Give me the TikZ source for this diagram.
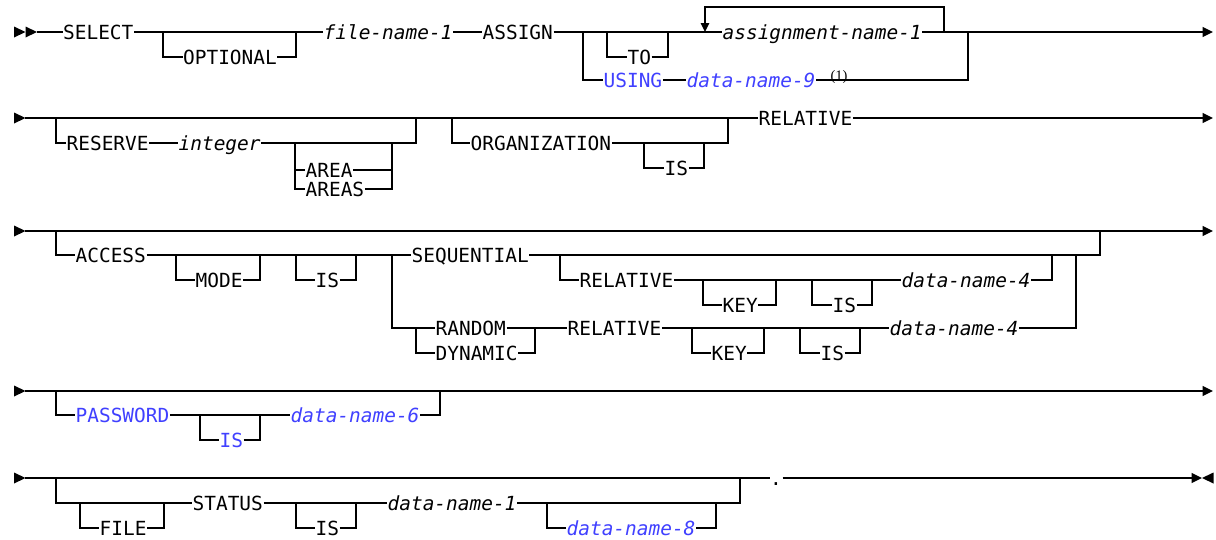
\documentclass[tikz,border=0pt]{standalone}
\usepackage{fontspec}
\usetikzlibrary{arrows.meta}
\newfontfamily\ibmmono{DejaVu Sans Mono}
\newfontfamily\notefont{Liberation Serif}
\newcommand\kwf{\ibmmono\fontsize{19.45pt}{22pt}\selectfont}
\newcommand\ntf{\notefont\fontsize{14.5pt}{16pt}\selectfont}
\definecolor{ibmblue}{RGB}{64,64,255}
\tikzset{
  kw/.style={font=\kwf, inner sep=0pt, text height=16pt, text depth=1.8pt, anchor=west},
  var/.style={kw, font=\kwf\itshape},
  hl/.style={text=ibmblue},
  note/.style={font=\ntf, inner sep=0pt, anchor=base west},
  endarrow/.style={-{Triangle[length=10.5pt,width=10pt]}},
  looparrow/.style={-{Triangle[length=9pt,width=8.5pt]}}
}
\begin{document}
\begin{tikzpicture}[x=1pt,y=-1pt,line width=1.3pt]
\useasboundingbox (0,0) rectangle (1216,539);

% ---------------- Row 1 ----------------
\fill (14,26.5) -- (25.5,32) -- (14,37.5) -- cycle;
\fill (25.5,26.5) -- (37,32) -- (25.5,37.5) -- cycle;
\coordinate (s1) at (37,32);
\node[kw] (sel) at (62.5,32) {SELECT};
\node[kw] (opt) at (182.5,57) {OPTIONAL};
\node[var] (fn1) at (323,32) {file-name-1};
\node[kw] (asg) at (482,32) {ASSIGN};
\node[kw] (to) at (627,57) {TO};
\node[kw,hl] (using) at (603,80) {USING};
\node[var,hl] (dn9) at (686,80) {data-name-9};
\node[var] (an1) at (722,32) {assignment-name-1};
\coordinate (e1) at (1213,32);

\draw (s1) -- (sel.west);
\draw (sel.east) -- (fn1.west);
\draw (163,32) |- (opt.west);
\draw (opt.east) -| (296,32);
\draw (fn1.east) -- (asg.west);
\draw (asg.east) -- (an1.west);
\draw (607,32) |- (to.west);
\draw (to.east) -| (668,32);
\draw (583,32) |- (using.west);
\draw (using.east) -- (dn9.west);
\draw (dn9.east) -| (968,32);
\node[note] (n1) at (830,80) {(1)};
\draw[looparrow] (944,32) |- (705,7) -- (705,32);
\draw[endarrow] (an1.east) -- (e1);

% ---------------- Row 2 ----------------
\fill (14,112.5) -- (25.5,118) -- (14,123.5) -- cycle;
\coordinate (s2) at (25,118);
\coordinate (e2) at (1213,118);
\node[kw] (res) at (66,143) {RESERVE};
\node[var] (int) at (178,143) {integer};
\node[kw] (area) at (305,170) {AREA};
\node[kw] (areas) at (305,189) {AREAS};
\node[kw] (org) at (470,143) {ORGANIZATION};
\node[kw] (is2) at (664,168) {IS};
\node[kw] (rel) at (758,118) {RELATIVE};

\draw (s2) -- (rel.west);
\draw[endarrow] (rel.east) -- (e2);
\draw (56,118) |- (res.west);
\draw (res.east) -- (int.west);
\draw (int.east) -| (416,118);
\draw (295,143) |- (area.west);
\draw (295,170) |- (areas.west);
\draw (area.east) -| (392,143);
\draw (areas.east) -| (392,170);
\draw (452,118) |- (org.west);
\draw (org.east) -| (728,118);
\draw (644,143) |- (is2.west);
\draw (is2.east) -| (704,143);

% ---------------- Row 3 ----------------
\fill (14,225.5) -- (25.5,231) -- (14,236.5) -- cycle;
\coordinate (s3) at (25,231);
\coordinate (e3) at (1213,231);
\node[kw] (acc) at (75,255) {ACCESS};
\node[kw] (mode) at (195,280) {MODE};
\node[kw] (is3) at (315,280) {IS};
\node[kw] (seq) at (411,255) {SEQUENTIAL};
\node[kw] (rel3a) at (579,280) {RELATIVE};
\node[kw] (key3a) at (722,305) {KEY};
\node[kw] (is3a) at (832,305) {IS};
\node[var] (dn4a) at (901,280) {data-name-4};
\node[kw] (rand) at (435,328) {RANDOM};
\node[kw] (dyn) at (435,353) {DYNAMIC};
\node[kw] (rel3b) at (567,328) {RELATIVE};
\node[kw] (key3b) at (711,353) {KEY};
\node[kw] (is3b) at (820,353) {IS};
\node[var] (dn4b) at (889,328) {data-name-4};

\draw[endarrow] (s3) -- (e3);
\draw (56,231) |- (acc.west);
\draw (acc.east) -- (seq.west);
\draw (176,255) |- (mode.west);
\draw (mode.east) -| (260,255);
\draw (296,255) |- (is3.west);
\draw (is3.east) -| (356,255);
\draw (seq.east) -| (1100,231);
\draw (560,255) |- (rel3a.west);
\draw (rel3a.east) -- (dn4a.west);
\draw (703,280) |- (key3a.west);
\draw (key3a.east) -| (776,280);
\draw (812,280) |- (is3a.west);
\draw (is3a.east) -| (872,280);
\draw (dn4a.east) -| (1052,255);
\draw (392,255) |- (rand.west);
\draw (416,328) |- (dyn.west);
\draw (rand.east) -- (rel3b.west);
\draw (dyn.east) -| (535,328);
\draw (rel3b.east) -- (dn4b.west);
\draw (692,328) |- (key3b.west);
\draw (key3b.east) -| (764,328);
\draw (800,328) |- (is3b.west);
\draw (is3b.east) -| (860,328);
\draw (dn4b.east) -| (1076,255);

% ---------------- Row 4 ----------------
\fill (14,385.5) -- (25.5,391) -- (14,396.5) -- cycle;
\coordinate (s4) at (25,391);
\coordinate (e4) at (1213,391);
\node[kw,hl] (pw) at (75,415) {PASSWORD};
\node[kw,hl] (is4) at (219,440) {IS};
\node[var,hl] (dn6) at (290,415) {data-name-6};

\draw[endarrow] (s4) -- (e4);
\draw (56,391) |- (pw.west);
\draw (pw.east) -- (dn6.west);
\draw (200,415) |- (is4.west);
\draw (is4.east) -| (260,415);
\draw (dn6.east) -| (440,391);

% ---------------- Row 5 ----------------
\fill (14,472.5) -- (25.5,478) -- (14,483.5) -- cycle;
\coordinate (s5) at (25,478);
\coordinate (e5) at (1202,478);
\node[kw] (file) at (99,528) {FILE};
\node[kw] (stat) at (192,503) {STATUS};
\node[kw] (is5) at (315,528) {IS};
\node[var] (dn1) at (387,503) {data-name-1};
\node[var,hl] (dn8) at (566,528) {data-name-8};
\node[kw,anchor=center] (dot) at (776,478) {.};

\draw (s5) -- (dot.west);
\draw[endarrow] (dot.east) -- (e5);
\fill (1213.5,472.5) -- (1202,478) -- (1213.5,483.5) -- cycle;
\draw (56,478) |- (stat.west);
\draw (80,503) |- (file.west);
\draw (file.east) -| (164,503);
\draw (stat.east) -- (dn1.west);
\draw (296,503) |- (is5.west);
\draw (is5.east) -| (356,503);
\draw (dn1.east) -| (740,478);
\draw (547,503) |- (dn8.west);
\draw (dn8.east) -| (716,503);
\end{tikzpicture}
\end{document}
